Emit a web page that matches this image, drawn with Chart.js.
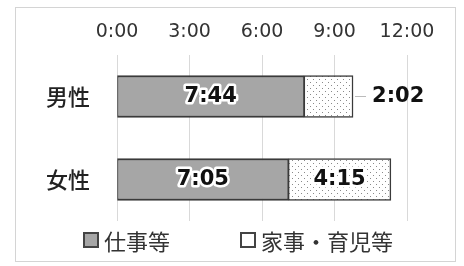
<!DOCTYPE html>
<html lang="ja">
<head>
    <meta charset="UTF-8">
    <title>仕事等・家事育児等の時間</title>
    <script src="https://cdn.jsdelivr.net/npm/chart.js"></script>
    <style>
        body { margin: 0; background: #fff; width: 464px; height: 266px; overflow: hidden; position: relative; }
        .frame { position: absolute; left: 15px; top: 7px; width: 441px; height: 255px; border: 1px solid #d4d4d4; box-sizing: border-box; }
        #wrap { position: absolute; left: 0; top: 0; width: 464px; height: 266px; }
        .legend { position: absolute; top: 227px; left: 0; width: 464px; font-family: "Noto Sans CJK JP", sans-serif; font-size: 22px; color: #333; line-height: 26px; }
        .legend span { position: absolute; white-space: nowrap; }
        .legend i { display: inline-block; width: 12px; height: 12px; border: 2px solid #444; margin-right: 5px; vertical-align: 2px; }
    </style>
</head>
<body>
    <div class="frame"></div>
    <div id="wrap"><canvas id="chart" width="464" height="266"></canvas></div>
    <div class="legend">
        <span style="left:83px"><i style="background:#a6a6a6"></i>仕事等</span>
        <span style="left:240px"><i style="background:#fff"></i>家事・育児等</span>
    </div>
    <script>
        // minutes per day
        const groups = ['男性', '女性'];
        const seriesNames = ['仕事等', '家事・育児等'];
        const work = [464, 425];      // 7:44, 7:05
        const housework = [122, 255]; // 2:02, 4:15
        const tickValues = [0, 180, 360, 540, 720];

        function hm(v) {
            const h = Math.floor(v / 60);
            const m = Math.round(v % 60);
            return h + ':' + (m < 10 ? '0' + m : m);
        }

        // dotted fill
        const pc = document.createElement('canvas');
        pc.width = 6; pc.height = 6;
        const px = pc.getContext('2d');
        px.fillStyle = '#fff';
        px.fillRect(0, 0, 6, 6);
        px.fillStyle = '#8a8a8a';
        px.fillRect(1, 1, 1, 1);
        px.fillRect(4, 4, 1, 1);
        const dots = px.createPattern(pc, 'repeat');

        const barLabels = {
            id: 'barLabels',
            afterDatasetsDraw(chart) {
                const ctx = chart.ctx;
                ctx.save();
                ctx.font = 'bold 21px "DejaVu Sans", sans-serif';
                ctx.textAlign = 'center';
                ctx.textBaseline = 'middle';
                ctx.lineJoin = 'round';
                chart.data.datasets.forEach((ds, i) => {
                    chart.getDatasetMeta(i).data.forEach((bar, j) => {
                        const txt = hm(ds.data[j]);
                        const w = ctx.measureText(txt).width;
                        const left = Math.min(bar.x, bar.base), right = Math.max(bar.x, bar.base);
                        let x = (left + right) / 2;
                        if (right - left < w + 6) {
                            // too narrow: label outside with a leader line
                            ctx.strokeStyle = '#bbb';
                            ctx.lineWidth = 1;
                            ctx.beginPath();
                            ctx.moveTo(right + 2, bar.y);
                            ctx.lineTo(right + 13, bar.y);
                            ctx.stroke();
                            x = right + 19 + w / 2;
                            ctx.fillStyle = '#111';
                            ctx.fillText(txt, x, bar.y);
                            return;
                        }
                        ctx.strokeStyle = '#fff';
                        ctx.lineWidth = 5;
                        ctx.strokeText(txt, x, bar.y);
                        ctx.fillStyle = '#111';
                        ctx.fillText(txt, x, bar.y);
                    });
                });
                ctx.restore();
            }
        };

        new Chart(document.getElementById('chart'), {
            type: 'bar',
            data: {
                labels: groups,
                datasets: [{
                    label: seriesNames[0],
                    data: work,
                    backgroundColor: '#a6a6a6',
                    borderColor: '#3a3a3a',
                    borderWidth: { top: 2, bottom: 2, left: 1, right: 1 },
                    borderSkipped: false,
                    barThickness: 42
                }, {
                    label: seriesNames[1],
                    data: housework,
                    backgroundColor: dots,
                    borderColor: '#3a3a3a',
                    borderWidth: 1.5,
                    borderSkipped: false,
                    barThickness: 42
                }]
            },
            options: {
                indexAxis: 'y',
                responsive: false,
                animation: false,
                layout: { padding: { left: 0, right: 57, top: 0, bottom: 45 } },
                plugins: { legend: { display: false }, tooltip: { enabled: false } },
                scales: {
                    x: {
                        position: 'top',
                        stacked: true,
                        min: 0, max: 720,
                        afterBuildTicks(scale) { scale.ticks = tickValues.map(v => ({ value: v })); },
                        afterFit(scale) { scale.height = 55; },
                        ticks: {
                            callback: v => hm(v),
                            font: { family: '"DejaVu Sans", sans-serif', size: 19 },
                            color: '#333',
                            padding: 12,
                            maxRotation: 0
                        },
                        grid: { color: '#d9d9d9', drawTicks: false },
                        border: { display: false }
                    },
                    y: {
                        stacked: true,
                        afterFit(scale) { scale.width = 117; },
                        ticks: {
                            font: { family: '"Noto Sans CJK JP", sans-serif', size: 22, weight: '500' },
                            color: '#222',
                            padding: 27
                        },
                        grid: { display: false, drawTicks: false },
                        border: { display: false }
                    }
                }
            },
            plugins: [barLabels]
        });
    </script>
</body>
</html>
